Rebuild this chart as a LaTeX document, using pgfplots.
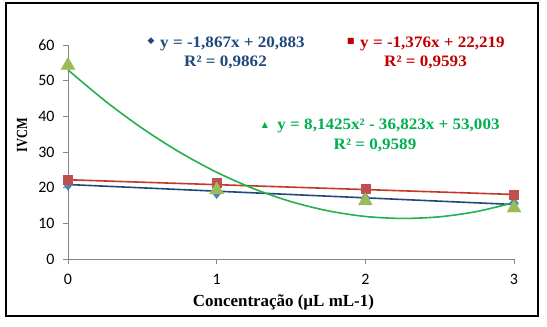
\documentclass[border=0pt]{standalone}
\usepackage{pgfplots}
\pgfplotsset{compat=1.18}
\usepackage{fontspec}
\setmainfont{Liberation Serif}
\newfontfamily\calib{Carlito}
\newfontfamily\sym{DejaVu Sans}
\definecolor{mblue}{HTML}{4F81BD}
\definecolor{lblue}{HTML}{1F497D}
\definecolor{mred}{HTML}{C0504D}
\definecolor{lred}{HTML}{C0392B}
\definecolor{tred}{HTML}{C00000}
\definecolor{mgreen}{HTML}{9BBB59}
\definecolor{lgreen}{HTML}{22B14C}
\definecolor{tgreen}{HTML}{00B050}
\definecolor{axgray}{HTML}{868686}
\begin{document}
\begin{tikzpicture}[x=1bp,y=1bp]
\useasboundingbox (-68,-67) rectangle (479,259);
\begin{axis}[
  at={(0,0)}, anchor=origin,
  scale only axis, width=446bp, height=214bp,
  xmin=0, xmax=3, ymin=0, ymax=60,
  xtick={0,1,2,3}, ytick={0,10,...,60},
  axis x line*=bottom, axis y line*=left,
  axis line style={axgray, line width=0.8bp, -},
  tick style={axgray, line width=0.8bp},
  tick align=outside, major tick length=5bp,
  ticklabel style={font=\calib\fontsize{16}{18}\selectfont},
  xticklabel style={yshift=-7bp},
  yticklabel style={xshift=-5bp},
  /pgf/number format/assume math mode=true,
  xlabel={\bfseries Concentração (µL mL-1)},
  ylabel={\bfseries\scalebox{0.8}[1]{IVCM}},
  xlabel style={font=\fontsize{17}{19}\selectfont, at={(axis description cs:0.483,0)}, anchor=base, yshift=-47bp},
  ylabel style={font=\fontsize{15.5}{17}\selectfont, at={(axis description cs:-0.103,0.58)}, anchor=center},
  clip=false,
]
% markers
\addplot[only marks, mark=diamond*, mark size=6bp, mark options={fill=mblue, draw=mblue}] coordinates {(0,20.9) (1,18.6) (2,17.0) (3,15.6)};
\addplot[only marks, mark=square*, mark size=4.5bp, mark options={fill=mred, draw=mred}] coordinates {(0,22.2) (1,21.4) (2,19.7) (3,18.1)};
\addplot[only marks, mark=triangle*, mark size=8bp, mark options={fill=mgreen, draw=mgreen}] coordinates {(0,54.3) (1,19.4) (2,16.3) (3,14.3)};
% trendlines
\addplot[lblue, line width=1.6bp] coordinates {(0,20.883) (3,15.282)};
\addplot[lred, line width=1.6bp] coordinates {(0,22.219) (3,18.091)};
\addplot[lgreen, line width=1.6bp, smooth] coordinates {
 (0,53.003) (0.25,44.306) (0.5,36.627) (0.75,29.966) (1,24.323) (1.25,19.697)
 (1.5,16.089) (1.75,13.499) (2,11.927) (2.25,11.372) (2.5,11.836) (2.75,13.318) (3,15.817)};
\end{axis}
\begin{scope}[font=\bfseries\fontsize{16}{18}\selectfont]
\node[lblue, anchor=base, xscale=1.07] at (164.5,212) {y = -1,867x + 20,883};
\node[lblue] at (83,218) {\sym\fontsize{9}{10}\selectfont ◆};
\node[lblue, anchor=base, xscale=1.07] at (157.5,193) {R² = 0,9862};
\node[tred, anchor=base, xscale=1.07] at (364.5,212) {y = -1,376x + 22,219};
\node[tred] at (283,218) {\sym\fontsize{8}{10}\selectfont ■};
\node[tred, anchor=base, xscale=1.07] at (357.5,193) {R² = 0,9593};
\node[tgreen, anchor=base, xscale=1.07] at (320.5,130) {y = 8,1425x² - 36,823x + 53,003};
\node[tgreen] at (197,134) {\sym\fontsize{8}{10}\selectfont ▲};
\node[tgreen, anchor=base, xscale=1.07] at (307,110) {R² = 0,9589};
\end{scope}
\draw[line width=2.5bp] (-62,-57) rectangle (470,256);
\end{tikzpicture}
\end{document}
